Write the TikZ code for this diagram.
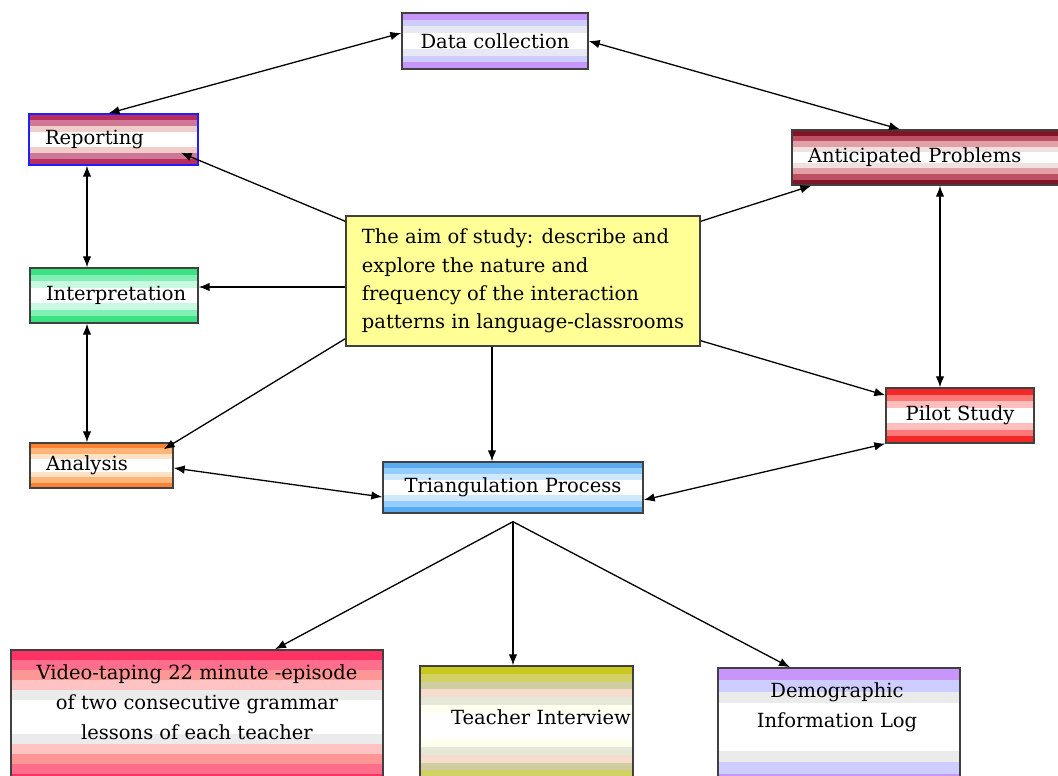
\documentclass[tikz,border=0pt]{standalone}
\usepackage{fontspec}
\setmainfont{DejaVu Serif}
\usetikzlibrary{arrows.meta,calc}

% band colours, listed from the outer edge of a box towards its centre
\definecolor{dcA}{RGB}{200,150,250}
\definecolor{dcB}{RGB}{205,205,255}
\definecolor{dcC}{RGB}{232,232,242}
\definecolor{rpA}{RGB}{185,45,95}
\definecolor{rpB}{RGB}{205,120,150}
\definecolor{rpC}{RGB}{240,205,200}
\definecolor{inA}{RGB}{60,225,130}
\definecolor{inB}{RGB}{130,240,180}
\definecolor{inC}{RGB}{200,250,225}
\definecolor{anA}{RGB}{250,130,50}
\definecolor{anB}{RGB}{255,180,120}
\definecolor{anC}{RGB}{255,225,195}
\definecolor{apA}{RGB}{130,20,40}
\definecolor{apB}{RGB}{190,80,100}
\definecolor{apC}{RGB}{225,160,165}
\definecolor{apD}{RGB}{240,225,225}
\definecolor{psA}{RGB}{240,40,40}
\definecolor{psB}{RGB}{255,120,120}
\definecolor{psC}{RGB}{255,190,190}
\definecolor{trA}{RGB}{90,170,240}
\definecolor{trB}{RGB}{150,205,255}
\definecolor{trC}{RGB}{205,232,255}
\definecolor{vtA}{RGB}{255,50,100}
\definecolor{vtB}{RGB}{255,110,140}
\definecolor{vtC}{RGB}{255,150,150}
\definecolor{vtD}{RGB}{255,195,195}
\definecolor{vtE}{RGB}{235,235,235}
\definecolor{tiA}{RGB}{200,200,30}
\definecolor{tiB}{RGB}{210,210,100}
\definecolor{tiC}{RGB}{205,205,160}
\definecolor{tiD}{RGB}{245,220,205}
\definecolor{tiE}{RGB}{230,232,215}
\definecolor{tiF}{RGB}{255,255,240}
\definecolor{aimfill}{RGB}{255,255,150}
\definecolor{repborder}{RGB}{30,30,255}

\tikzset{
  stripe step/.store in=\stripestep,
  stripe step=0.12,
  % horizontal bands, symmetric about the middle of the box
  stripes/.style={path picture={
    \foreach \c [count=\i] in {#1} {
      \pgfmathsetmacro\t{(\i-1)*\stripestep}
      \fill[\c]
        ($(path picture bounding box.south west)!\t!(path picture bounding box.north west)$)
        rectangle
        ($(path picture bounding box.north east)!\t!(path picture bounding box.south east)$);
    }}},
  box/.style={draw=black!75, line width=1.4pt, inner sep=0pt,
    font=\fontsize{19.5}{24}\selectfont, text=black},
  label text/.style={font=\fontsize{19.5}{30}\selectfont, align=center, inner sep=0pt},
  >={Latex[length=11pt,width=8.5pt]},
  link/.style={->, line width=1.3pt},
  dlink/.style={<->, line width=1.3pt},
}

\begin{document}
\begin{tikzpicture}[x=1pt,y=-1pt]
\useasboundingbox (0,0) rectangle (1058,776);
\clip (0,0) rectangle (1058,776);
\fill[white] (0,0) rectangle (1058,776);

% upper boxes
\node[box, stripes={dcA,dcB,dcC,white}, minimum width=186, minimum height=56]
  (data) at (495,41) {Data collection};
\node[box, draw=repborder, stripes={rpA,rpB,rpC,white}, minimum width=169, minimum height=51,
  text width=137, align=left] (report) at (113.5,139.5) {Reporting};
\node[box, stripes={inA,inB,inC,white}, minimum width=168, minimum height=55,
  text width=136, align=left] (interp) at (114,295.5) {Interpretation};
\node[box, stripes={anA,anB,anC,white}, minimum width=143, minimum height=45,
  text width=111, align=left] (analysis) at (101.5,465.5) {Analysis};
\node[box, stripe step=0.1, stripes={apA,apB,apC,apD,white}, minimum width=278, minimum height=55,
  text width=246, align=left] (antic) at (931,157.5) {Anticipated Problems};
\node[box, stripes={psA,psB,psC,white}, minimum width=148, minimum height=55]
  (pilot) at (960,415.5) {Pilot Study};
\node[box, stripes={trA,trB,trC,white}, minimum width=260, minimum height=51]
  (tri) at (513,487.5) {Triangulation Process};

% central aim
\node[box, fill=aimfill, minimum width=354, minimum height=130, align=left,
  font=\fontsize{19.5}{28.3}\selectfont] (aim) at (523,281)
  {The aim of study: describe and\\explore the nature and\\frequency of the interaction\\patterns in language-classrooms};

% lower boxes, running past the bottom edge
\node[box, stripe step=0.075, stripes={vtA,vtB,vtC,vtD,vtE,white}, minimum width=372, minimum height=134]
  (video) at (197,717) {};
\node[label text] (videotext) at (197,702)
  {Video-taping 22 minute -episode\\of two consecutive grammar\\lessons of each teacher};
\node[box, stripe step=0.065, stripes={tiA,tiB,tiC,tiD,tiE,tiF,white}, minimum width=213, minimum height=120]
  (teacher) at (526.5,726) {};
\node[label text] (teachertext) at (541,717) {Teacher Interview};
\node[box, stripe step=0.1, stripes={dcA,dcB,vtE,white}, minimum width=242, minimum height=118]
  (demo) at (839,727) {};
\node[label text] (demotext) at (837,707) {Demographic\\Information Log};

% connectors
\draw[dlink] (data.west |- 0,33) -- ([xshift=-5]report.north);
\draw[dlink] (data.east) -- ([xshift=-31]antic.north);
\draw[dlink] ([xshift=-26.5]report.south) -- ([xshift=-27]interp.north);
\draw[dlink] ([xshift=-27]interp.south) -- ([xshift=-14.5]analysis.north);
\draw[link] ([shift={(0,6)}]aim.north west) -- ([shift={(-18,-13)}]report.south east);
\draw[link] ([shift={(0,6)}]aim.west) -- ([shift={(0,-8.5)}]interp.east);
\draw[link] ([shift={(0,-8)}]aim.south west) -- ([shift={(-10,7)}]analysis.north east);
\draw[link] ([shift={(0,6)}]aim.north east) -- ([shift={(20,0)}]antic.south west);
\draw[link] ([shift={(0,-6)}]aim.south east) -- ([shift={(0,8)}]pilot.north west);
\draw[link] ([xshift=-31]aim.south) -- ([xshift=-21]tri.north);
\draw[dlink] ([xshift=9]antic.south) -- ([xshift=-20]pilot.north);
\draw[dlink] ([shift={(0,2.5)}]analysis.east) -- ([shift={(0,9.5)}]tri.west);
\draw[dlink] ([shift={(0,12.5)}]tri.east) -- (pilot.south west);

\coordinate (fork) at ([shift={(0,8)}]tri.south);
\draw[link] (fork) -- ([xshift=78]video.north);
\draw[link] (fork) -- ([xshift=-13.5]teacher.north);
\draw[link] (fork) -- ([xshift=-49]demo.north);
\end{tikzpicture}
\end{document}
